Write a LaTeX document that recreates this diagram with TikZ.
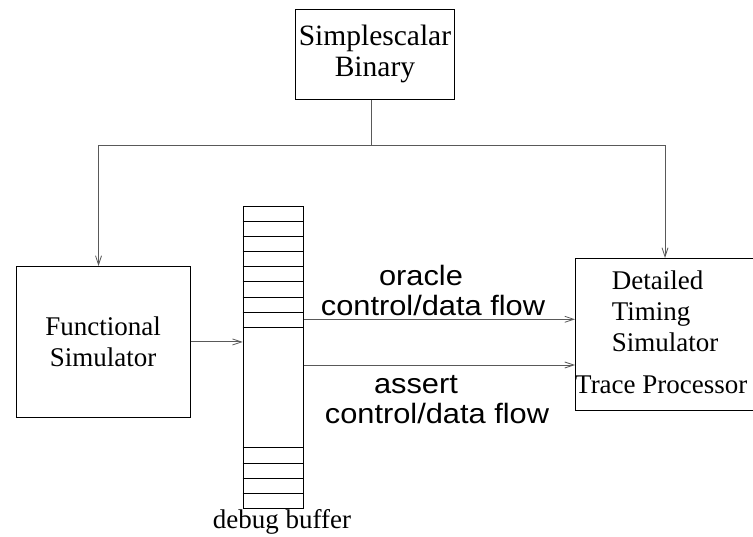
\documentclass[tikz,border=0pt]{standalone}
\usepackage{fontspec}
\setmainfont{Liberation Serif}
\newfontfamily\labelsans[FakeStretch=1.1]{Liberation Sans}
\usetikzlibrary{arrows.meta,calc}
\begin{document}
\begin{tikzpicture}[x=1pt,y=-1pt,
  box/.style={draw, line width=0.9pt, inner sep=0pt, anchor=north west},
  conn/.style={draw, line width=0.9pt, gray!70!black},
  arr/.style={conn, -{Straight Barb[length=9pt,width=6pt,line width=0.8pt]}},
  serif/.style={font=\fontsize{27}{31}\selectfont, align=center, inner sep=0pt},
  sans/.style={font=\labelsans\fontsize{28}{30}\selectfont, align=center, inner sep=0pt}]
\useasboundingbox (0,0) rectangle (753,537);
\clip (0,0) rectangle (753,537);
% boxes
\node[box, minimum width=159pt, minimum height=90pt] (bin) at (295,9) {};
\node[serif, font=\fontsize{29.5}{31}\selectfont] (bintext) at (bin.center) {Simplescalar\\Binary};
\node[box, minimum width=174pt, minimum height=151pt] (func) at (15.7,266) {};
\node[serif] (functext) at (func.center) {Functional\\Simulator};
\node[box, minimum width=190pt, minimum height=152pt] (det) at (575,258) {};
\node[serif, anchor=west, align=left] (dettext) at (611.7,311) {Detailed\\Timing\\Simulator};
\node[serif, anchor=west] (trace) at (575,385) {Trace Processor};
\node[box, minimum width=60pt, minimum height=302.3pt] (buf) at (242.7,205.7) {};
\foreach \d in {15.3,30.3,45.3,60.3,75.3,91.3,106.3,121.3,241.3,257.3,272.3,287.3}
  \draw[line width=0.9pt] ($(buf.north west)+(0,\d)$) -- ($(buf.north east)+(0,\d)$);
\node[serif] (buftext) at (282,522) {debug buffer};
% connectors
\coordinate (split) at (371,145);
\coordinate (lt) at (98.5,145);
\coordinate (rt) at (665,145);
\coordinate (oy) at (0,319.3);
\coordinate (ay) at (0,365);
\draw[conn] (bin.south -| split) -- (split);
\draw[arr] (split) -- (lt) -- (lt |- func.north);
\draw[arr] (split) -- (rt) -- (rt |- det.north);
\draw[arr] (func.east) -- (func.east -| buf.west);
\draw[arr] (buf.east |- oy) -- (det.west |- oy);
\draw[arr] (buf.east |- ay) -- (det.west |- ay);
% labels
\node[sans] (orl) at (421,275) {oracle};
\node[sans] (orc) at (433,305) {control/data flow};
\node[sans] (asl) at (416,385) {assert};
\node[sans] (asc) at (437,413) {control/data flow};
\end{tikzpicture}
\end{document}
